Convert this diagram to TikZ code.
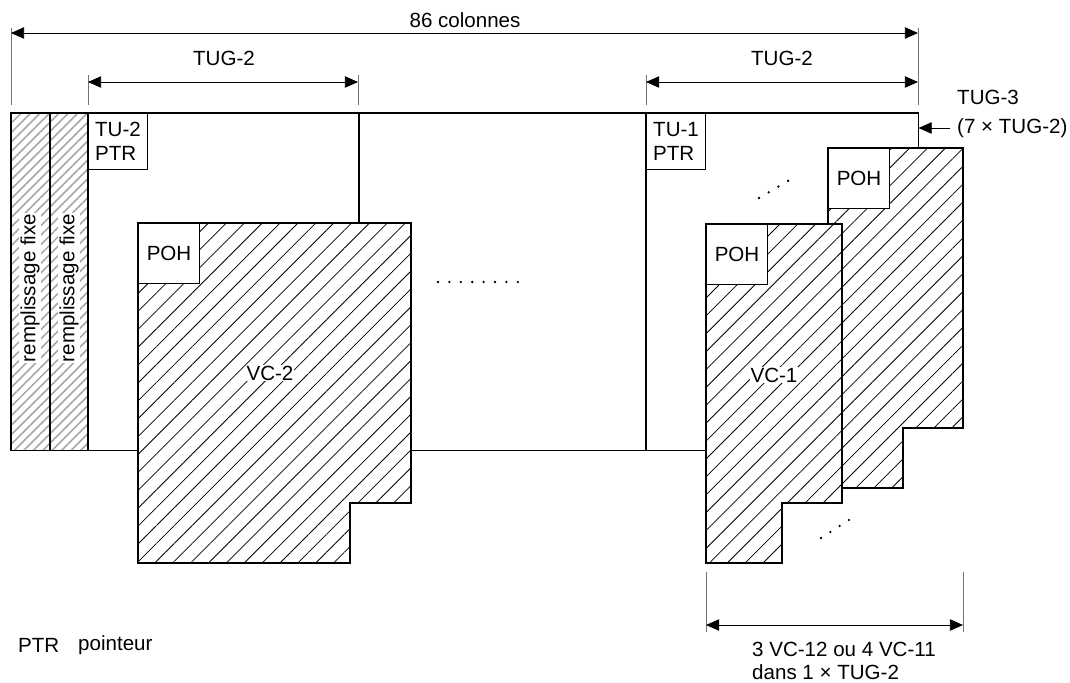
\documentclass[tikz,border=0pt]{standalone}
\usepackage{fontspec}
\setmainfont{Liberation Sans}
\usetikzlibrary{arrows.meta, patterns.meta}

\tikzset{
  dim/.style={{Triangle[length=7.5pt,width=6.5pt]}-{Triangle[length=7.5pt,width=6.5pt]}, line width=0.5pt},
  arr/.style={-{Triangle[length=7.5pt,width=6.5pt]}, line width=0.5pt},
  tick/.style={draw=black!55, line width=0.5pt},
  heavy/.style={line width=0.95pt},
  frameline/.style={line width=0.6pt},
  vcshape/.style={draw, line width=0.6pt, preaction={fill=white}, pattern={Lines[angle=45, distance=7.2pt, line width=0.45pt]}},
  fixfill/.style={pattern={Lines[angle=45, distance=3.8pt, line width=0.9pt]}, pattern color=black!35},
  ohbox/.style={draw, fill=white, line width=0.6pt, inner sep=0pt, minimum width=1.22cm, minimum height=1.2cm, anchor=north west},
  ptrbox/.style={draw, fill=white, line width=0.6pt, inner sep=2pt, align=left, anchor=north west, minimum width=1.18cm, minimum height=1.12cm},
  fixtext/.style={rotate=90, fill=white, inner sep=0.6pt},
  vclabel/.style={fill=white, inner sep=0.6pt}
}

\begin{document}
\begin{tikzpicture}[x=0.02cm, y=-0.02cm, font=\fontsize{11.7}{13.5}\selectfont]
	\useasboundingbox (0,0) rectangle (1070,682);
	% fixed stuffing columns and TUG-3 frame
	\fill[fixfill] (11,113) rectangle (88,450);
	\node[inner sep=0pt, minimum width=18.14cm, minimum height=6.74cm, anchor=north west] (tug3) at (11,113) {};
	\draw[frameline] (tug3.south west) -- (tug3.north west) -- (tug3.north east) -- ++(0,35);
	\draw[frameline] (tug3.south west) -- ++(695,0);
	\draw[heavy] (50,113) -- (50,450);
	\draw[heavy] (88,113) -- (88,450);
	\draw[heavy] (359,113) -- (359,223);
	\draw[heavy] (646,113) -- (646,450);
	\node[fixtext] (fix1) at (30,288) {remplissage fixe};
	\node[fixtext] (fix2) at (69,288) {remplissage fixe};
	% pointers
	\node[ptrbox] (ptr2) at (88,113) {TU-2\\PTR};
	\node[ptrbox] (ptr1) at (646,113) {TU-1\\PTR};
	% VC-2
	\draw[vcshape] (138,223) -- (411,223) -- (411,503) -- (350,503) -- (350,563) -- (138,563) -- cycle;
	\node[ohbox] (poh2) at (138,223) {POH};
	\node[vclabel] (vc2) at (270,373) {VC-2};
	\foreach \i in {0,...,7}
		\fill (438+\i*11.4, 282) circle (0.026cm);
	% VC-1 (back and front)
	\draw[vcshape] (828,148) -- (963,148) -- (963,428) -- (903,428) -- (903,488) -- (828,488) -- cycle;
	\node[ohbox] (pohb) at (828,148) {POH};
	\draw[vcshape] (706,224) -- (842,224) -- (842,503) -- (782,503) -- (782,563) -- (706,563) -- cycle;
	\node[ohbox] (pohf) at (706,224) {POH};
	\node[vclabel] (vc1) at (774,375) {VC-1};
	\foreach \i in {0,...,3} {
		\fill (759+\i*9.7, 198-\i*5.7) circle (0.026cm);
		\fill (821+\i*9.3, 538-\i*6) circle (0.026cm);
	}
	% dimensions
	\coordinate (a86L) at (11,33);
	\coordinate (a86R) at (918,33);
	\draw[tick] (11,28) -- (11,105);
	\draw[tick] (918,28) -- (918,105);
	\draw[dim] (a86L) -- (a86R);
	\node (l86) at (465,20) {86 colonnes};
	\coordinate (g2L) at (88,82);
	\coordinate (g2R) at (358,82);
	\draw[tick] (88,75) -- (88,105);
	\draw[tick] (358,75) -- (358,105);
	\draw[dim] (g2L) -- (g2R);
	\node (lg2L) at (224,58) {TUG-2};
	\coordinate (g1L) at (646,82);
	\coordinate (g1R) at (918,82);
	\draw[tick] (646,75) -- (646,105);
	\draw[dim] (g1L) -- (g1R);
	\node (lg2R) at (782,58) {TUG-2};
	\node[align=left, anchor=west] (l3) at (951,114) {TUG-3\\[2.5pt](7 × TUG-2)};
	\coordinate (a3) at (950,128);
	\draw[arr] (a3) -- (a3 -| tug3.east);
	\coordinate (bL) at (706,625);
	\coordinate (bR) at (963,625);
	\draw[tick] (706,572) -- (706,632);
	\draw[tick] (963,572) -- (963,632);
	\draw[dim] (bL) -- (bR);
	\node[align=left, anchor=west] (lb) at (746,661) {3 VC-12 ou 4 VC-11\\dans 1 × TUG-2};
	% legend
	\node[anchor=west] (lptr) at (12,645) {PTR};
	\node[anchor=west] (lpnt) at (72,645) {pointeur};
\end{tikzpicture}
\end{document}
